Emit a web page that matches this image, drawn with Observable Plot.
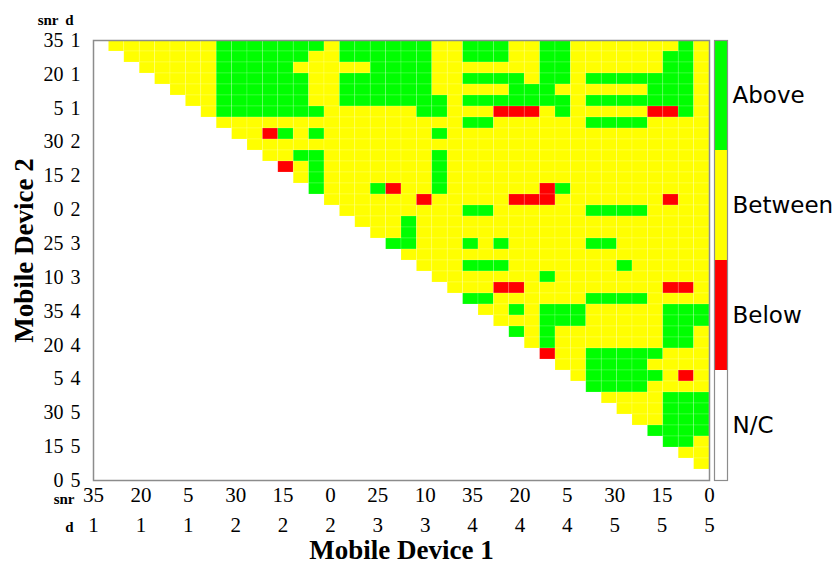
<!DOCTYPE html>
<html><head><meta charset="utf-8">
<script src="https://cdn.jsdelivr.net/npm/d3@7"></script>
<script src="https://cdn.jsdelivr.net/npm/@observablehq/plot@0.6"></script>
<style>
body{margin:0;background:#fff;}
#wrap{position:relative;width:837px;height:572px;background:#fff;}
#wrap svg{position:absolute;top:0;}
</style></head><body><div id="wrap"></div>
<script>
// Device configurations: snr varies fastest, then d
const snrLevels = [35, 30, 25, 20, 15, 10, 5, 0];
const dLevels = [1, 2, 3, 4, 5];
const tickStep = 3;

// Legend categories and colours
const categories = ["Above", "Between", "Below", "N/C"];
const categoryColors = ["#00ff00", "#ffff00", "#ff0000", "#ffffff"];
const codeToCategory = {G: "Above", Y: "Between", R: "Below"};

// Comparison matrix: row = Mobile Device 2, column = Mobile Device 1
// "." = not compared (blank), G = Above, Y = Between, R = Below
const gridRows = [
  ".YYYYYYYGG GGGGGYGGGG GGYYGGGYYG GYYYYYYYGY",
  "..YYYYYYGG GGGGYYGGGG GGYYGGGYYG GYYYYYYGGY",
  "...YYYYYGG GGGYYYYYGG GGYYYYYYYG GYYYYYYGGY",
  "....YYYYGG GGGGYYGGGG GGYYGGGGYG GYGGGGGGGY",
  ".....YYYGG GGGGYYGGGG GGYYYYYGGG YYYYYYGGGY",
  "......YYGG GGGGYYGGGG GGGYGGGGGG GYGGGGGGGY",
  ".......YGG GGGGGYYYYY YGGYYYRRRY GYYYYYRRGY",
  "........YY YYYYYYYYYY YYYYGGYYYY YYGGGGYYYY",
  ".........Y YRGYGYYYYY YYGYYYYYYY YYYYYYYYYY",
  ".......... YYYYYYYYYY YYYYYYYYYY YYYYYYYYYY",
  ".......... .YYGGYYYYY YYGYYYYYYY YYYYYYYYYY",
  ".......... ..RYGYYYYY YYGYYYYYYY YYYYYYYYYY",
  ".......... ...YGYYYYY YYGYYYYYYY YYYYYYYYYY",
  ".......... ....GYYYGR YYGYYYYYYR GYYYYYYYYY",
  ".......... .....YYYYY YRYYYYYRRR YYYYYYYRYY",
  ".......... ......YYYY YYYYGGYYYY YYGGGGYYYY",
  ".......... .......YYY GYYYYYYYYY YYYYYYYYYY",
  ".......... ........YY GYYYYYYYYY YYYYYYYYYY",
  ".......... .........G GYYYGYGYYY YYGGYYYYYY",
  ".......... .......... YYYYYYYYYY YYYYYYYYYY",
  ".......... .......... .YYYGGGYYY YYYYGYYYYY",
  ".......... .......... ..YYYYYYYG YYYYYYYYYY",
  ".......... .......... ...YYYRRYY YYYYYYYRRY",
  ".......... .......... ....GGYYYY YYGGGGYYYY",
  ".......... .......... .....YYGYG GGYYYYYGGG",
  ".......... .......... ......YYYG GGYYYYYGGG",
  ".......... .......... .......GYG YYYYYYYGGY",
  ".......... .......... ........YG YYYYYYYGGY",
  ".......... .......... .........R YYGGGGGYYY",
  ".......... .......... .......... YYGGGGYYYY",
  ".......... .......... .......... .YGGGGGYRY",
  ".......... .......... .......... ..GGGGYYYY",
  ".......... .......... .......... ...YYYYGGG",
  ".......... .......... .......... ....YYYGGG",
  ".......... .......... .......... .....YYGGG",
  ".......... .......... .......... ......GGGG",
  ".......... .......... .......... .......GGY",
  ".......... .......... .......... ........YY",
  ".......... .......... .......... .........Y",
  ".......... .......... .......... .........."
];

// ---- build tables ----
const devices = [];
for (const d of dLevels) for (const s of snrLevels) devices.push({snr: s, d});
const n = devices.length;

const cells = [];
gridRows.forEach((row, r) => {
  const codes = row.replace(/\s+/g, "");
  for (let c = 0; c < codes.length; ++c) {
    const cat = codeToCategory[codes[c]];
    if (cat) cells.push({r, c, cat});
  }
});

// tick labels: every third device, spread edge to edge over the matrix
const ticks = d3.range(0, n, tickStep).map(i => ({
  pos: i * n / (n - 1),
  snr: String(devices[i].snr),
  d: String(devices[i].d)
}));

const serif = "'Liberation Serif', 'DejaVu Serif', serif";
const sans = "'DejaVu Sans', sans-serif";

const main = Plot.plot({
  width: 837,
  height: 572,
  marginLeft: 93,
  marginRight: 128,
  marginTop: 40,
  marginBottom: 92,
  x: {domain: [0, n], axis: null},
  y: {domain: [0, n], reverse: true, axis: null},
  color: {domain: categories, range: categoryColors},
  style: {background: "white", color: "black"},
  marks: [
    Plot.rect(cells, {
      x1: "c", x2: d => d.c + 1, y1: "r", y2: d => d.r + 1,
      fill: "cat", stroke: "#ffffff", strokeOpacity: 0.25, strokeWidth: 0.6
    }),
    Plot.frame({stroke: "#8c8c8c", strokeWidth: 1.5}),
    // x tick labels (two rows)
    Plot.text(ticks, {x: "pos", text: "snr", frameAnchor: "bottom", dy: 21, fontSize: 21, fontFamily: serif}),
    Plot.text(ticks, {x: "pos", text: "d", frameAnchor: "bottom", dy: 51, fontSize: 21, fontFamily: serif}),
    Plot.text(["snr"], {text: d => d, frameAnchor: "bottom-left", dx: -19, dy: 23, textAnchor: "end", fontWeight: "bold", fontSize: 15, fontFamily: serif}),
    Plot.text(["d"], {text: d => d, frameAnchor: "bottom-left", dx: -20, dy: 51, textAnchor: "end", fontWeight: "bold", fontSize: 15, fontFamily: serif}),
    // y tick labels (two columns)
    Plot.text(ticks, {y: "pos", text: "snr", frameAnchor: "left", dx: -30, textAnchor: "end", fontSize: 20, fontFamily: serif}),
    Plot.text(ticks, {y: "pos", text: "d", frameAnchor: "left", dx: -13, textAnchor: "end", fontSize: 20, fontFamily: serif}),
    Plot.text(["snr"], {text: d => d, frameAnchor: "top-left", dx: -35, dy: -26, textAnchor: "end", fontWeight: "bold", fontSize: 15, fontFamily: serif}),
    Plot.text(["d"], {text: d => d, frameAnchor: "top-left", dx: -20, dy: -26, textAnchor: "end", fontWeight: "bold", fontSize: 15, fontFamily: serif}),
    // axis titles
    Plot.text(["Mobile Device 1"], {text: d => d, frameAnchor: "bottom", textAnchor: "middle", dy: 78, fontWeight: "bold", fontSize: 27, fontFamily: serif}),
    Plot.text(["Mobile Device 2"], {text: d => d, frameAnchor: "left", textAnchor: "middle", dx: -69, dy: -10, rotate: -90, fontWeight: "bold", fontSize: 27, fontFamily: serif})
  ]
});

const bar = Plot.plot({
  width: 123,
  height: 572,
  marginLeft: 1,
  marginRight: 109,
  marginTop: 40,
  marginBottom: 92,
  y: {type: "band", domain: categories, padding: 0, axis: null},
  color: {domain: categories, range: categoryColors},
  style: {background: "transparent", color: "black"},
  marks: [
    Plot.cell(categories, {y: d => d, fill: d => d}),
    Plot.frame({stroke: "#8c8c8c", strokeWidth: 1.2}),
    Plot.axisY({anchor: "right", tickSize: 0, tickPadding: 5, fontSize: 23, fontFamily: sans})
  ]
});

const wrap = document.getElementById("wrap");
main.style.left = "0px";
bar.style.left = "713px";
wrap.appendChild(main);
wrap.appendChild(bar);
</script>
</body></html>
